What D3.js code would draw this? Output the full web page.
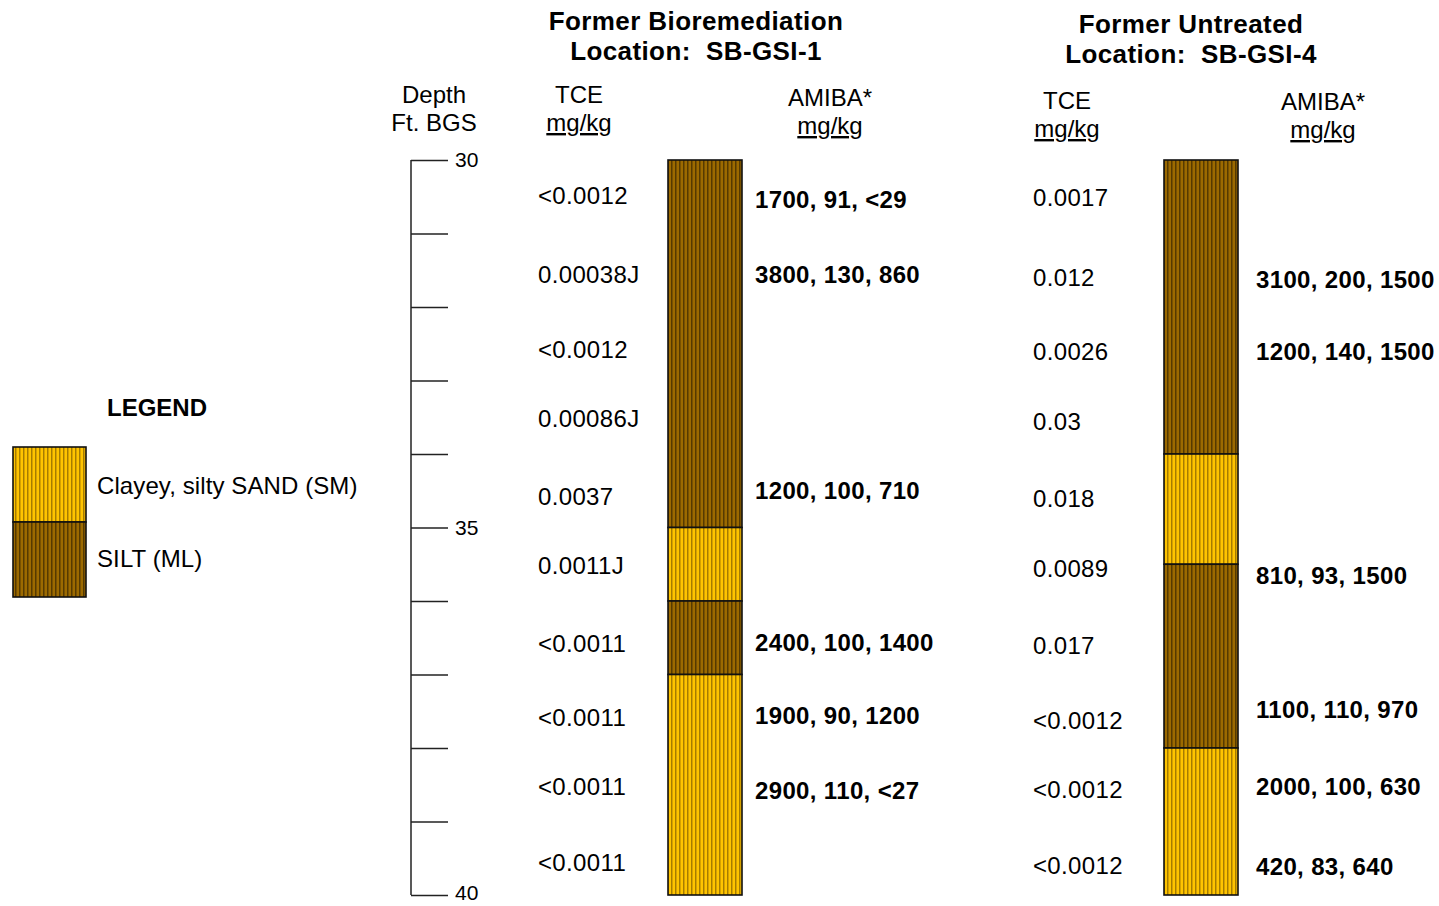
<!DOCTYPE html>
<html>
<head>
<meta charset="utf-8">
<script src="https://cdn.jsdelivr.net/npm/d3@7"></script>
<style>
body{margin:0;background:#fff;}
svg text{font-family:"Liberation Sans",Arial,sans-serif;fill:#000;}
</style>
</head>
<body>
<svg id="chart" width="1439" height="906"></svg>
<script>
// ---------- DATA ----------
const depthTicks = [30,31,32,33,34,35,36,37,38,39,40];
const depthLabels = [30,35,40];

// Soil layers: [top, bottom, type]
const layers1Top = [30,35,36,37];
const layers1Bottom = [35,36,37,40];
const layers1Type = ["SILT","SAND","SILT","SAND"];

const layers2Top = [30,34,35.5,38];
const layers2Bottom = [34,35.5,38,40];
const layers2Type = ["SILT","SAND","SILT","SAND"];

// TCE (mg/kg) at sample depths
const tce1Depth = [30.48,31.56,32.57,33.52,34.57,35.51,36.57,37.58,38.52,39.55];
const tce1Label = ["<0.0012","0.00038J","<0.0012","0.00086J","0.0037","0.0011J","<0.0011","<0.0011","<0.0011","<0.0011"];
const tce2Depth = [30.51,31.60,32.61,33.56,34.61,35.55,36.61,37.62,38.56,39.59];
const tce2Label = ["0.0017","0.012","0.0026","0.03","0.018","0.0089","0.017","<0.0012","<0.0012","<0.0012"];

// AMIBA* (mg/kg)
const amiba1Depth = [30.53,31.56,34.49,36.56,37.55,38.58];
const amiba1Label = ["1700, 91, <29","3800, 130, 860","1200, 100, 710","2400, 100, 1400","1900, 90, 1200","2900, 110, <27"];
const amiba2Depth = [31.62,32.61,35.65,37.47,38.52,39.61];
const amiba2Label = ["3100, 200, 1500","1200, 140, 1500","810, 93, 1500","1100, 110, 970","2000, 100, 630","420, 83, 640"];

const legendTypes = ["SAND","SILT"];
const legendLabels = ["Clayey, silty SAND (SM)","SILT (ML)"];

// ---------- DRAW ----------
const svg = d3.select("#chart");
const y = d3.scaleLinear().domain([30,40]).range([160,895]);

const defs = svg.append("defs");
function pattern(id, base, stripe){
  const p = defs.append("pattern").attr("id",id).attr("patternUnits","userSpaceOnUse")
    .attr("x",669).attr("width",4).attr("height",20);
  p.append("rect").attr("width",4).attr("height",20).attr("fill",base);
  p.append("rect").attr("x",2).attr("width",1.6).attr("height",20).attr("fill",stripe);
  p.append("rect").attr("x",2.5).attr("width",0.6).attr("height",20).attr("fill","#000").attr("opacity",0.35);
}
pattern("SAND","#FFC400","#C99600");
pattern("SILT","#9C6A00","#694600");

// Axis
const axisG = svg.append("g").attr("transform","translate(411,0)");
const axis = d3.axisRight(y).tickValues(depthTicks).tickSize(37).tickPadding(7)
  .tickFormat(d => depthLabels.includes(d) ? d : "");
axisG.call(axis);
axisG.select(".domain").attr("d", `M0,${y(30)}V${y(40)}`).attr("stroke","#222").attr("stroke-width",1.5);
axisG.selectAll(".tick line").attr("stroke","#222").attr("stroke-width",1.5);
axisG.selectAll(".tick text").attr("font-size",21).attr("font-family","Liberation Sans, Arial, sans-serif").attr("fill","#000")
  .attr("dy", d => d === 40 ? "0.2em" : "0.32em");

// headers
function txt(x,yy,s,size,opts={}){
  const t = svg.append("text").attr("x",x).attr("y",yy).attr("font-size",size).text(s);
  if(opts.anchor) t.attr("text-anchor",opts.anchor);
  if(opts.bold) t.attr("font-weight","bold");
  if(opts.ul) t.attr("text-decoration","underline");
  if(opts.ls) t.attr("letter-spacing",opts.ls);
  return t;
}
txt(434,103,"Depth",24,{anchor:"middle"});
txt(434,131,"Ft. BGS",24,{anchor:"middle"});

txt(696,30,"Former Bioremediation",26,{anchor:"middle",bold:true,ls:0.4});
txt(696,60,"Location:  SB-GSI-1",26,{anchor:"middle",bold:true,ls:0.4}).style("white-space","pre");
txt(1191,33,"Former Untreated",26,{anchor:"middle",bold:true,ls:0.4});
txt(1191,63,"Location:  SB-GSI-4",26,{anchor:"middle",bold:true,ls:0.4}).style("white-space","pre");

txt(579,103,"TCE",24,{anchor:"middle"});
txt(579,131,"mg/kg",24,{anchor:"middle",ul:true});
txt(830,106,"AMIBA*",24,{anchor:"middle"});
txt(830,134,"mg/kg",24,{anchor:"middle",ul:true});
txt(1067,109,"TCE",24,{anchor:"middle"});
txt(1067,137,"mg/kg",24,{anchor:"middle",ul:true});
txt(1323,110,"AMIBA*",24,{anchor:"middle"});
txt(1323,138,"mg/kg",24,{anchor:"middle",ul:true});

// Columns
function column(x0, tops, bottoms, types){
  const g = svg.append("g");
  g.selectAll("rect").data(tops).join("rect")
    .attr("x",x0).attr("width",74)
    .attr("y",(d)=>y(d)).attr("height",(d,i)=>y(bottoms[i])-y(d))
    .attr("fill",(d,i)=>`url(#${types[i]})`)
    .attr("stroke","#111").attr("stroke-width",1.6);
}
column(668, layers1Top, layers1Bottom, layers1Type);
column(1164, layers2Top, layers2Bottom, layers2Type);

function labels(x, depths, labs, bold){
  svg.append("g").selectAll("text").data(depths).join("text")
    .attr("x",x).attr("y",d=>y(d)).attr("dy","0.36em")
    .attr("font-size",24).attr("font-weight",bold?"bold":"normal")
    .attr("letter-spacing",0.35)
    .text((d,i)=>labs[i]);
}
labels(538, tce1Depth, tce1Label, false);
labels(755, amiba1Depth, amiba1Label, true);
labels(1033, tce2Depth, tce2Label, false);
labels(1256, amiba2Depth, amiba2Label, true);

// Legend
txt(107,416,"LEGEND",24,{bold:true});
const lg = svg.append("g");
legendTypes.forEach((t,i)=>{
  lg.append("rect").attr("x",13).attr("y",447+i*75).attr("width",73).attr("height",75)
    .attr("fill",`url(#${t})`).attr("stroke","#111").attr("stroke-width",1.6);
  lg.append("text").attr("x",97).attr("y",485+i*73).attr("dy","0.36em").attr("font-size",24)
    .attr("letter-spacing",0.1).text(legendLabels[i]);
});
</script>
</body>
</html>
